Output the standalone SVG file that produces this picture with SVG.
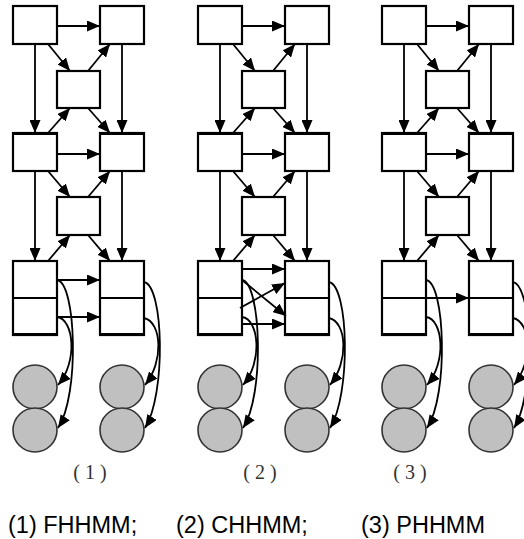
<svg xmlns="http://www.w3.org/2000/svg" width="524" height="539" viewBox="0 0 524 539">
<style>
.box{fill:#fff;stroke:#000;stroke-width:2.2}
.div{stroke:#000;stroke-width:2.2}
.thick{fill:#000}
.st{fill:#c0c0c0;stroke:#333;stroke-width:1.6}
.c{fill:none;stroke:#000;stroke-width:1.8;marker-end:url(#ah)}
.lab{font-family:"Liberation Serif",serif;font-size:20px;fill:#333;letter-spacing:5px;text-anchor:middle}
.cap{font-family:"Liberation Sans",Arial,sans-serif;font-size:23.5px;fill:#000}
</style>
<defs>
<marker id="ah" markerUnits="userSpaceOnUse" markerWidth="13" markerHeight="11" viewBox="0 0 13 11" refX="13" refY="5.5" orient="auto">
<path d="M0,0 L13,5.5 L0,11 z" fill="#000"/>
</marker>
<g id="common">
<path class="c" d="M57,26 L100,26"/>
<path class="c" d="M48,44 L70,71"/>
<path class="c" d="M88,71 L110,44"/>
<path class="c" d="M35,44 L35,133"/>
<path class="c" d="M122,44 L122,133"/>
<path class="c" d="M88,108 L110,133"/>
<path class="c" d="M48,133 L70,108"/>
<path class="c" d="M57,154 L100,154"/>
<path class="c" d="M48,171 L70,197"/>
<path class="c" d="M88,197 L110,171"/>
<path class="c" d="M35,171 L35,261"/>
<path class="c" d="M122,171 L122,261"/>
<path class="c" d="M88,235 L110,261"/>
<path class="c" d="M48,261 L70,235"/>
<path class="c" d="M57,280 C76,282 80,395 58,428"/>
<path class="c" d="M57,317 C74,319 78,362 58,385"/>
<path class="c" d="M144,282 C164,286 166,395 145,428"/>
<path class="c" d="M144,318 C162,322 164,362 145,385"/>
</g>
</defs>

<g id="col1">
<g id="n1-s1"><rect class="box" x="13" y="6" width="44" height="38"/></g>
<g id="n1-s2"><rect class="box" x="100" y="6" width="44" height="38"/></g>
<g id="n1-m1"><rect class="box" x="57" y="71" width="43" height="37"/></g>
<g id="n1-s3"><rect class="box" x="13" y="133" width="44" height="38"/><rect class="thick" x="12" y="132" width="46" height="3"/></g>
<g id="n1-s4"><rect class="box" x="100" y="133" width="44" height="38"/><rect class="thick" x="99" y="132" width="46" height="3"/></g>
<g id="n1-m2"><rect class="box" x="57" y="197" width="43" height="38"/></g>
<g id="n1-p1"><rect class="box" x="13" y="261" width="44" height="74"/><line class="div" x1="13" y1="298" x2="57" y2="298"/><rect class="thick" x="12" y="333" width="46" height="3"/></g>
<g id="n1-p2"><rect class="box" x="100" y="261" width="44" height="74"/><line class="div" x1="100" y1="298" x2="144" y2="298"/><rect class="thick" x="99" y="333" width="46" height="3"/></g>
<g id="n1-o1"><circle class="st" cx="35" cy="387" r="22"/></g>
<g id="n1-o2"><circle class="st" cx="35" cy="430" r="22"/></g>
<g id="n1-o3"><circle class="st" cx="122" cy="387" r="22"/></g>
<g id="n1-o4"><circle class="st" cx="122" cy="430" r="22"/></g>
<g id="e1">
<use href="#common"/>
<path class="c" d="M57,280 L100,280"/>
<path class="c" d="M57,317 L100,317"/>
</g>
</g>

<g id="col2" transform="translate(185,0)">
<g id="n2-s1"><rect class="box" x="13" y="6" width="44" height="38"/></g>
<g id="n2-s2"><rect class="box" x="100" y="6" width="44" height="38"/></g>
<g id="n2-m1"><rect class="box" x="57" y="71" width="43" height="37"/></g>
<g id="n2-s3"><rect class="box" x="13" y="133" width="44" height="38"/><rect class="thick" x="12" y="132" width="46" height="3"/></g>
<g id="n2-s4"><rect class="box" x="100" y="133" width="44" height="38"/><rect class="thick" x="99" y="132" width="46" height="3"/></g>
<g id="n2-m2"><rect class="box" x="57" y="197" width="43" height="38"/></g>
<g id="n2-p1"><rect class="box" x="13" y="261" width="44" height="74"/><line class="div" x1="13" y1="298" x2="57" y2="298"/><rect class="thick" x="12" y="333" width="46" height="3"/></g>
<g id="n2-p2"><rect class="box" x="100" y="261" width="44" height="74"/><line class="div" x1="100" y1="298" x2="144" y2="298"/><rect class="thick" x="99" y="333" width="46" height="3"/></g>
<g id="n2-o1"><circle class="st" cx="35" cy="387" r="22"/></g>
<g id="n2-o2"><circle class="st" cx="35" cy="430" r="22"/></g>
<g id="n2-o3"><circle class="st" cx="122" cy="387" r="22"/></g>
<g id="n2-o4"><circle class="st" cx="122" cy="430" r="22"/></g>
<g id="e2">
<use href="#common"/>
<path class="c" d="M57,269 L100,269"/>
<path class="c" d="M57,280 L101,316"/>
<path class="c" d="M55,308 L100,283"/>
<path class="c" d="M57,324 L100,324"/>
</g>
</g>

<g id="col3" transform="translate(369,0)">
<g id="n3-s1"><rect class="box" x="13" y="6" width="44" height="38"/></g>
<g id="n3-s2"><rect class="box" x="100" y="6" width="44" height="38"/></g>
<g id="n3-m1"><rect class="box" x="57" y="71" width="43" height="37"/></g>
<g id="n3-s3"><rect class="box" x="13" y="133" width="44" height="38"/><rect class="thick" x="12" y="132" width="46" height="3"/></g>
<g id="n3-s4"><rect class="box" x="100" y="133" width="44" height="38"/><rect class="thick" x="99" y="132" width="46" height="3"/></g>
<g id="n3-m2"><rect class="box" x="57" y="197" width="43" height="38"/></g>
<g id="n3-p1"><rect class="box" x="13" y="261" width="44" height="74"/><line class="div" x1="13" y1="298" x2="57" y2="298"/><rect class="thick" x="12" y="333" width="46" height="3"/></g>
<g id="n3-p2"><rect class="box" x="100" y="261" width="44" height="74"/><line class="div" x1="100" y1="298" x2="144" y2="298"/><rect class="thick" x="99" y="333" width="46" height="3"/></g>
<g id="n3-o1"><circle class="st" cx="35" cy="387" r="22"/></g>
<g id="n3-o2"><circle class="st" cx="35" cy="430" r="22"/></g>
<g id="n3-o3"><circle class="st" cx="122" cy="387" r="22"/></g>
<g id="n3-o4"><circle class="st" cx="122" cy="430" r="22"/></g>
<g id="e3">
<use href="#common"/>
<path class="c" d="M57,298 L100,298"/>
</g>
</g>

<g id="labels">
<text class="lab" x="92.5" y="479">(1)</text>
<text class="lab" x="262.5" y="479">(2)</text>
<text class="lab" x="412.5" y="479">(3)</text>
<text class="cap" x="8" y="533">(1) FHHMM;</text>
<text class="cap" x="176" y="533">(2) CHHMM;</text>
<text class="cap" x="361" y="533">(3) PHHMM</text>
</g>
</svg>
